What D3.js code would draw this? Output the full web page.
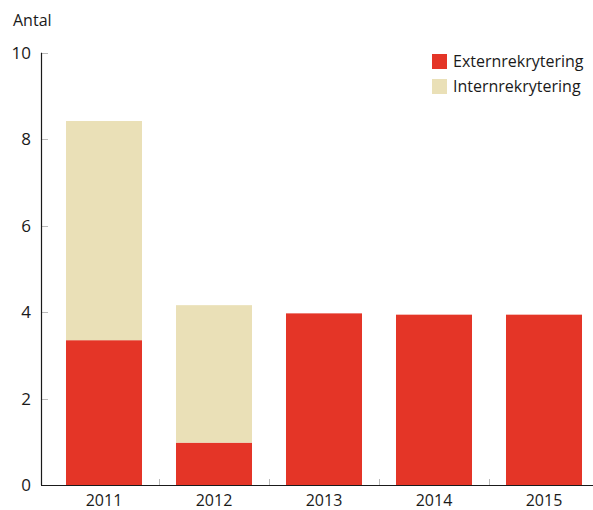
<!DOCTYPE html>
<html>
<head>
<meta charset="utf-8">
<script src="https://cdn.jsdelivr.net/npm/d3@7"></script>
<style>
  body { margin: 0; background: #fff; }
  text { font-family: "Open Sans", "DejaVu Sans", sans-serif; fill: #1a1a1a; }
</style>
</head>
<body>
<div id="chart"></div>
<script>
const years = ["2011", "2012", "2013", "2014", "2015"];
const extern = [3.35, 0.98, 3.97, 3.94, 3.94];
const intern = [5.07, 3.18, 0, 0, 0];
const yTicks = [0, 2, 4, 6, 8, 10];
const seriesNames = ["Externrekrytering", "Internrekrytering"];
const colors = ["#e43527", "#eae0b7"];

const width = 593, height = 510;

const svg = d3.select("#chart").append("svg")
    .attr("width", width)
    .attr("height", height);

const x = d3.scaleBand()
    .domain(years)
    .range([49, 599])
    .paddingInner(0.309)
    .paddingOuter(0.1545);

const y = d3.scaleLinear()
    .domain([0, 10])
    .range([485, 52.7]);

// stacked data
const rows = years.map((yr, i) => ({ year: yr, Externrekrytering: extern[i], Internrekrytering: intern[i] }));
const stack = d3.stack().keys(seriesNames)(rows);

// y grid ticks (short gray ticks inside the axis)
svg.append("g").selectAll("line")
    .data(yTicks)
    .join("line")
    .attr("x1", 41).attr("x2", 48)
    .attr("y1", d => Math.round(y(d)) + 0.5)
    .attr("y2", d => Math.round(y(d)) + 0.5)
    .attr("stroke", "#bbb")
    .attr("stroke-width", 1);

// x ticks at band boundaries
const boundaries = years.slice(1).map(d => x(d) - x.step() * x.paddingInner() / 2);
svg.append("g").selectAll("line")
    .data(boundaries)
    .join("line")
    .attr("x1", d => Math.round(d) + 0.5).attr("x2", d => Math.round(d) + 0.5)
    .attr("y1", y(0) - 6).attr("y2", y(0))
    .attr("stroke", "#bbb");

// bars
svg.append("g").selectAll("g")
    .data(stack)
    .join("g")
    .attr("fill", (d, i) => colors[i])
    .selectAll("rect")
    .data(d => d)
    .join("rect")
    .attr("x", d => x(d.data.year))
    .attr("width", x.bandwidth())
    .attr("y", d => y(d[1]))
    .attr("height", d => y(d[0]) - y(d[1]));

// axis lines
svg.append("line")
    .attr("x1", 41.5).attr("x2", 41.5)
    .attr("y1", y(10)).attr("y2", y(0))
    .attr("stroke", "#1a1a1a").attr("stroke-width", 1.2);
svg.append("line")
    .attr("x1", 41).attr("x2", width)
    .attr("y1", y(0) + 0.5).attr("y2", y(0) + 0.5)
    .attr("stroke", "#1a1a1a").attr("stroke-width", 1.2);

// y tick labels
svg.append("g").selectAll("text")
    .data(yTicks)
    .join("text")
    .attr("x", 31)
    .attr("y", d => y(d) + 6)
    .attr("text-anchor", "end")
    .attr("font-size", 17)
    .text(d => d);

// x labels
svg.append("g").selectAll("text")
    .data(years)
    .join("text")
    .attr("x", d => x(d) + x.bandwidth() / 2)
    .attr("y", 506)
    .attr("text-anchor", "middle")
    .attr("font-size", 16)
    .text(d => d);

// y title
svg.append("text")
    .attr("x", 13).attr("y", 26)
    .attr("font-size", 16)
    .text("Antal");

// legend
const legend = svg.append("g").selectAll("g")
    .data(seriesNames)
    .join("g")
    .attr("transform", (d, i) => `translate(432, ${54 + i * 25})`);
legend.append("rect")
    .attr("width", 15).attr("height", 15)
    .attr("fill", (d, i) => colors[i]);
legend.append("text")
    .attr("x", 21).attr("y", 13)
    .attr("font-size", 16)
    .text(d => d);
</script>
</body>
</html>
